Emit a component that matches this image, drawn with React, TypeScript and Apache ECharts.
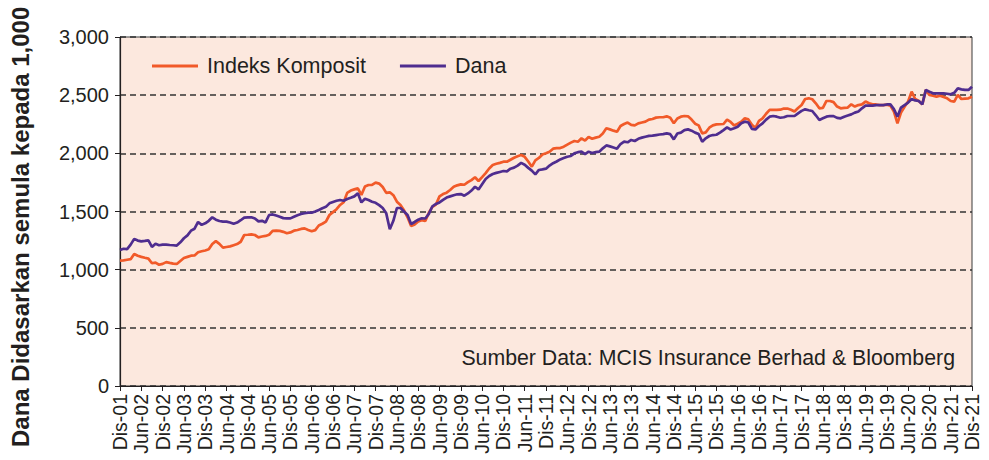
import React, { useEffect, useRef } from "react";
import * as echarts from "echarts";

// Malay month abbreviations used for the category labels
const MONTH_NAMES = ["Jan", "Feb", "Mac", "Apr", "Mei", "Jun", "Jul", "Ogo", "Sep", "Okt", "Nov", "Dis"];

// Monthly categories from Dis-01 to Dis-21 (241 months)
const CATEGORIES: string[] = [];
for (let i = 0; i <= 240; i++) {
  const mi = (11 + i) % 12;
  const yr = 1 + Math.floor((11 + i) / 12);
  CATEGORIES.push(`${MONTH_NAMES[mi]}-${String(yr).padStart(2, "0")}`);
}

const Y_TICKS = [0, 500, 1000, 1500, 2000, 2500, 3000];

const SERIES_NAMES = ["Indeks Komposit", "Dana"];

// Indeks Komposit (rebased to 1,000), monthly, Dis-01 .. Dis-21
const INDEKS_KOMPOSIT = [
  1077, 1080, 1085, 1090, 1135, 1120, 1110, 1102, 1095, 1055, 1060, 1042,
  1050, 1065, 1058, 1052, 1049, 1075, 1100, 1110, 1120, 1122, 1150, 1158,
  1165, 1175, 1220, 1245, 1222, 1190, 1195, 1200, 1210, 1220, 1240, 1298,
  1300, 1304, 1298, 1278, 1285, 1290, 1300, 1333, 1335, 1333, 1325, 1313,
  1320, 1335, 1341, 1350, 1355, 1341, 1330, 1340, 1380, 1395, 1413, 1470,
  1495, 1520, 1556, 1580, 1660, 1680, 1690, 1699, 1642, 1715, 1728, 1728,
  1748, 1740, 1710, 1660, 1665, 1640, 1584, 1555, 1510, 1450, 1375, 1389,
  1415, 1425, 1418, 1490, 1540, 1560, 1630, 1650, 1662, 1685, 1712, 1725,
  1733, 1730, 1752, 1770, 1794, 1762, 1795, 1830, 1870, 1900, 1910, 1918,
  1928, 1928, 1945, 1962, 1975, 1985, 1970, 1930, 1885, 1940, 1960, 1990,
  2000, 2014, 2040, 2045, 2045, 2057, 2075, 2092, 2106, 2100, 2129, 2110,
  2140, 2125, 2135, 2143, 2170, 2215, 2206, 2195, 2186, 2235, 2252, 2265,
  2245, 2240, 2258, 2265, 2272, 2290, 2295, 2307, 2310, 2310, 2318, 2305,
  2258, 2300, 2315, 2321, 2318, 2290, 2255, 2240, 2172, 2180, 2220, 2240,
  2249, 2250, 2252, 2290, 2270, 2240, 2255, 2272, 2301, 2292, 2245, 2220,
  2280, 2300, 2340, 2373, 2373, 2373, 2375, 2385, 2385, 2375, 2360, 2390,
  2416, 2467, 2473, 2465, 2430, 2387, 2390, 2450, 2450, 2440, 2402, 2387,
  2390, 2393, 2421, 2402, 2415, 2421, 2445, 2430, 2421, 2420, 2415, 2415,
  2418, 2410, 2358, 2258, 2350, 2401, 2445, 2530, 2467, 2450, 2421, 2545,
  2502, 2495, 2487, 2496, 2485, 2473, 2450, 2445, 2502, 2467, 2470, 2473,
  2487,
];

// Dana (fund, rebased to 1,000), monthly, Dis-01 .. Dis-21
const DANA = [
  1169, 1180, 1176, 1215, 1265, 1250, 1243, 1247, 1252, 1195, 1222, 1210,
  1215, 1216, 1212, 1210, 1207, 1235, 1270, 1295, 1335, 1352, 1410, 1385,
  1398, 1420, 1450, 1430, 1418, 1413, 1413, 1405, 1395, 1405, 1425, 1448,
  1450, 1450, 1440, 1415, 1420, 1406, 1470, 1475, 1465, 1455, 1443, 1441,
  1441, 1455, 1468, 1479, 1485, 1490, 1490, 1500, 1513, 1528, 1540, 1570,
  1582, 1592, 1599, 1592, 1608, 1618, 1630, 1656, 1578, 1610, 1598, 1584,
  1575, 1555, 1530, 1484, 1347, 1420, 1530, 1530, 1500, 1470, 1393, 1410,
  1430, 1442, 1440, 1480, 1545, 1565, 1578, 1600, 1620, 1630, 1640, 1648,
  1650, 1636, 1655, 1680, 1713, 1690, 1735, 1780, 1805, 1822, 1832, 1840,
  1848, 1845, 1868, 1877, 1895, 1918, 1902, 1875, 1851, 1819, 1857, 1862,
  1868, 1895, 1915, 1930, 1948, 1960, 1971, 1977, 2000, 2010, 2014, 1994,
  2014, 2003, 2010, 2014, 2043, 2068, 2060, 2050, 2040, 2080, 2100, 2095,
  2115, 2106, 2125, 2135, 2143, 2150, 2152, 2157, 2162, 2165, 2172, 2165,
  2120, 2170, 2178, 2200, 2206, 2195, 2178, 2166, 2100, 2129, 2149, 2157,
  2160, 2178, 2200, 2223, 2205, 2215, 2229, 2258, 2272, 2265, 2210, 2205,
  2235, 2258, 2290, 2315, 2321, 2315, 2306, 2310, 2321, 2321, 2321, 2344,
  2365, 2378, 2370, 2364, 2327, 2287, 2301, 2315, 2321, 2320, 2305, 2301,
  2315, 2325, 2335, 2350, 2360, 2387, 2410, 2410, 2410, 2415, 2415, 2415,
  2420, 2421, 2380, 2315, 2393, 2415, 2436, 2467, 2455, 2450, 2421, 2545,
  2530, 2516, 2516, 2516, 2516, 2512, 2507, 2520, 2559, 2550, 2545, 2545,
  2573,
];

const Y_TITLE = "Dana Didasarkan semula kepada 1,000";
const SOURCE_TEXT = "Sumber Data: MCIS Insurance Berhad & Bloomberg";

const FONT = '"Liberation Sans", Arial, Helvetica, sans-serif';
const TEXT_COLOR = "#231F20";
const ORANGE = "#F15A29";
const PURPLE = "#4F2D8F";

export default function App() {
  const ref = useRef<HTMLDivElement>(null);

  useEffect(() => {
    if (!ref.current) return;
    const chart = echarts.init(ref.current, null, { renderer: "svg" });
    const option: any = {
      animation: false,
      backgroundColor: "#ffffff",
      textStyle: { fontFamily: FONT },
      grid: {
        left: 120,
        right: 17,
        top: 37,
        bottom: 74,
        show: true,
        backgroundColor: "#FCE8DE",
        borderColor: "#3a3a3a",
        borderWidth: 1,
      },
      legend: {
        left: 152,
        top: 55,
        padding: 0,
        icon: "rect",
        itemWidth: 46,
        itemHeight: 3,
        itemGap: 34,
        data: SERIES_NAMES,
        textStyle: { fontSize: 21.5, color: TEXT_COLOR, fontFamily: FONT, padding: [0, 0, 0, 4] },
      },
      xAxis: {
        type: "category",
        data: CATEGORIES,
        boundaryGap: false,
        axisLine: { lineStyle: { color: TEXT_COLOR, width: 1.2 } },
        axisTick: { show: true, interval: 5, length: 5, lineStyle: { color: TEXT_COLOR } },
        axisLabel: {
          interval: 5,
          rotate: 90,
          fontSize: 19.5,
          color: TEXT_COLOR,
          margin: 8,
          fontFamily: FONT,
        },
        splitLine: { show: false },
      },
      yAxis: {
        type: "value",
        min: Y_TICKS[0],
        max: Y_TICKS[Y_TICKS.length - 1],
        interval: 500,
        axisLine: { show: true, lineStyle: { color: TEXT_COLOR, width: 1.2 } },
        axisTick: { show: true, length: 5, lineStyle: { color: TEXT_COLOR } },
        axisLabel: {
          fontSize: 20,
          color: TEXT_COLOR,
          margin: 11,
          fontFamily: FONT,
          formatter: (v: number) => v.toLocaleString("en-US"),
        },
        splitLine: { show: true, lineStyle: { type: [6, 4], color: "#333333", width: 1.5 } },
      },
      series: [
        {
          name: SERIES_NAMES[0],
          type: "line",
          data: INDEKS_KOMPOSIT,
          symbol: "none",
          lineStyle: { color: ORANGE, width: 2.7 },
          itemStyle: { color: ORANGE },
          z: 2,
        },
        {
          name: SERIES_NAMES[1],
          type: "line",
          data: DANA,
          symbol: "none",
          lineStyle: { color: PURPLE, width: 2.7 },
          itemStyle: { color: PURPLE },
          z: 3,
        },
      ],
      graphic: [
        {
          type: "text",
          x: 20,
          y: 447,
          rotation: Math.PI / 2,
          style: {
            text: Y_TITLE,
            font: `bold 24px ${FONT}`,
            fill: TEXT_COLOR,
            align: "left",
            verticalAlign: "middle",
          },
        },
        {
          type: "text",
          x: 955,
          y: 358,
          z: 10,
          style: {
            text: SOURCE_TEXT,
            font: `21.3px ${FONT}`,
            fill: TEXT_COLOR,
            align: "right",
            verticalAlign: "middle",
          },
        },
      ],
    };
    chart.setOption(option);
    return () => chart.dispose();
  }, []);

  return (
    <div
      ref={ref}
      style={{ position: "absolute", left: 0, top: 0, width: 989, height: 460 }}
    />
  );
}
